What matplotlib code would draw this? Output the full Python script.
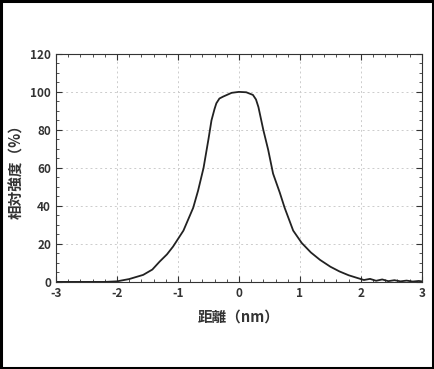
import numpy as np
import matplotlib.pyplot as plt
from matplotlib.ticker import MultipleLocator
from matplotlib.patches import Rectangle

plt.rcParams['font.family'] = ['Noto Sans CJK JP', 'DejaVu Sans']
plt.rcParams['axes.unicode_minus'] = False

# Profile: distance (nm) vs relative intensity (%)
dist = [-3.0, -2.6, -2.2, -2.0, -1.8, -1.57, -1.42, -1.3, -1.18, -1.08, -0.91,
        -0.75, -0.67, -0.58, -0.5, -0.45, -0.4, -0.37, -0.32, -0.26, -0.12,
        0.0, 0.12, 0.23, 0.28, 0.32, 0.36, 0.4, 0.48, 0.56, 0.67, 0.75,
        0.89, 1.03, 1.18, 1.33, 1.5, 1.65, 1.8, 1.95, 2.05, 2.15, 2.25,
        2.35, 2.45, 2.55, 2.65, 2.75, 2.85, 2.95, 3.0]
inten = [0, 0, 0, 0.3, 1.5, 3.7, 6.5, 10.7, 14.5, 18.6, 27,
         39, 48, 60, 75, 85, 91, 94, 96.5, 97.5, 99.5,
         100, 99.8, 98.4, 96, 92, 86, 80, 69.5, 57, 47, 39,
         27, 20.5, 15.5, 11.6, 8, 5.5, 3.5, 2, 1, 1.6, 0.6,
         1.3, 0.4, 0.9, 0.3, 0.7, 0.2, 0.5, 0.3]

xticks = [-3, -2, -1, 0, 1, 2, 3]
yticks = [0, 20, 40, 60, 80, 100, 120]

fig = plt.figure(figsize=(4.34, 3.69), dpi=100)
ax = fig.add_axes([0.129, 0.236, 0.843, 0.618])

ax.plot(dist, inten, color='#222222', lw=1.3)

ax.set_xlim(-3, 3)
ax.set_ylim(0, 120)
ax.set_xticks(xticks)
ax.set_yticks(yticks)
ax.xaxis.set_minor_locator(MultipleLocator(0.2))
ax.yaxis.set_minor_locator(MultipleLocator(5))
ax.tick_params(which='both', direction='in', top=True, right=True,
               labelsize=8.5, colors='#333333')
ax.tick_params(which='major', length=4)
ax.tick_params(which='minor', length=2)
for lab in ax.get_xticklabels() + ax.get_yticklabels():
    lab.set_fontweight('bold')
ax.grid(True, which='major', linestyle=(0, (2, 3)), color='#cccccc', lw=0.7)
for s in ax.spines.values():
    s.set_color('#333333')

ax.set_xlabel('距離（nm）', fontsize=10.5, color='#333333', labelpad=6,
              fontweight='bold')
ax.set_ylabel('相対強度（%）', fontsize=10.5, color='#333333', labelpad=4,
              fontweight='bold')

# black frame around the whole picture
fig.patches.append(Rectangle((0.003, 0.004), 0.994, 0.992, transform=fig.transFigure,
                             fill=False, edgecolor='black', lw=2.2))

fig.savefig('out.png', dpi=100)
